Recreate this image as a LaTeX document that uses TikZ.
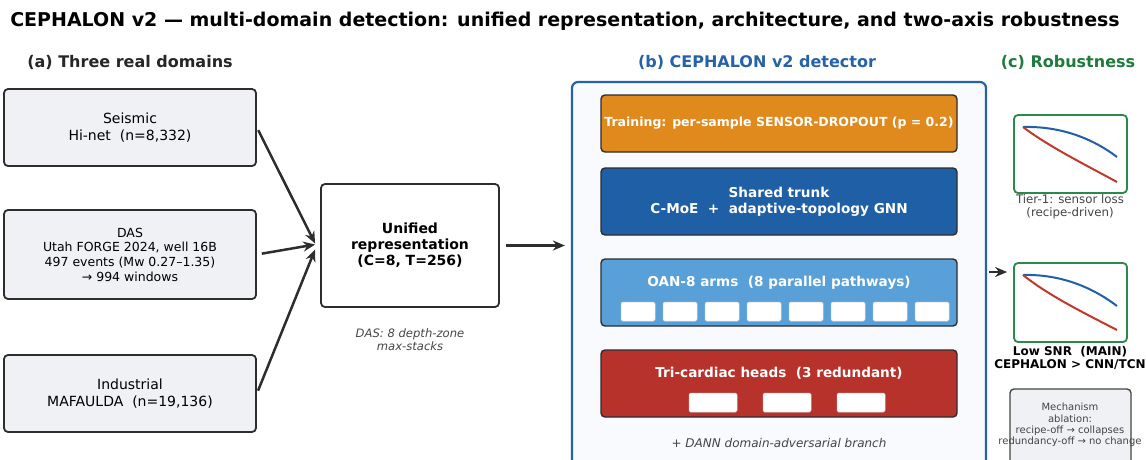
\documentclass[tikz,border=0pt]{standalone}
\usepackage{fontspec}
\setmainfont{DejaVu Sans}
\usepackage{xcolor}
\usetikzlibrary{calc,arrows.meta,positioning}
\definecolor{inkx}{HTML}{2D2D2D}
\definecolor{paleg}{HTML}{F0F1F5}
\definecolor{detblue}{HTML}{2562A8}
\definecolor{detbg}{HTML}{F8FAFD}
\definecolor{orangex}{HTML}{E08A1E}
\definecolor{trunkx}{HTML}{1F5FA6}
\definecolor{armx}{HTML}{5AA0D8}
\definecolor{headx}{HTML}{B8322C}
\definecolor{greenx}{HTML}{2A8A4A}
\definecolor{titlegr}{HTML}{1E7B3C}
\definecolor{curveb}{HTML}{2060A8}
\definecolor{curver}{HTML}{C0392B}
\definecolor{capg}{HTML}{444444}
\tikzset{
  ar/.style={-{Stealth[length=12pt,width=10pt]},line width=2.5pt,inkx},
  dombox/.style={draw=inkx,line width=1.8pt,rounded corners=4pt,fill=paleg,align=center,inner sep=0pt},
  layer/.style={draw=inkx,line width=1.4pt,rounded corners=4pt,align=center,inner sep=0pt,minimum width=356pt,minimum height=67pt,text=white,font=\fontsize{13.6}{16}\selectfont\bfseries},
  slot/.style={fill=white,draw=white!85!black,line width=0.5pt,rounded corners=1.5pt,inner sep=0pt,minimum height=19pt},
  plotbox/.style={draw=greenx,line width=1.8pt,rounded corners=4pt,fill=white,minimum width=113pt,inner sep=0pt},
  head/.style={font=\fontsize{16}{19}\selectfont\bfseries},
  note/.style={text=capg,align=center,font=\fontsize{11.6}{13}\selectfont\itshape},
  cb/.style={curveb,line width=2pt},
  cr/.style={curver,line width=2pt}
}

\begin{document}
\begin{tikzpicture}[x=1pt,y=-1pt]
\useasboundingbox (0,0) rectangle (1146,459);
% title and panel headers
\node[font=\fontsize{19}{22}\selectfont\bfseries] (ttl) at (565,21) {CEPHALON v2 --- multi-domain detection: unified representation, architecture, and two-axis robustness};
\node[head,text=black!85] (hda) at (130,62) {(a) Three real domains};
\node[head,text=detblue] (hdb) at (757,62) {(b) CEPHALON v2 detector};
\node[head,text=titlegr] (hdc) at (1068,62) {(c) Robustness};

% (a) domains
\node[dombox,minimum width=252pt,minimum height=77pt,font=\fontsize{14}{17}\selectfont] (seis) at (130,127.5) {Seismic\\Hi-net~ (n=8,332)};
\node[dombox,minimum width=252pt,minimum height=89pt,font=\fontsize{12.5}{14.7}\selectfont] (das) at (130,254.5) {DAS\\Utah FORGE 2024, well 16B\\497 events (Mw 0.27–1.35)\\→ 994 windows};
\node[dombox,minimum width=252pt,minimum height=77pt,font=\fontsize{14}{17}\selectfont] (ind) at (130,393.5) {Industrial\\MAFAULDA~ (n=19,136)};

\node[dombox,fill=white,minimum width=178pt,minimum height=123pt,font=\fontsize{14}{16}\selectfont\bfseries] (unif) at (410,245.5) {Unified\\representation\\(C=8, T=256)};
\node[note] (dasnote) at (410,340) {DAS: 8 depth-zone\\max-stacks};

\draw[ar,shorten <=3pt] (seis.east) -- ([xshift=-5pt,yshift=2pt]unif.west);
\draw[ar,shorten <=5pt] (das.east) -- ([xshift=-5pt,yshift=1pt]unif.west);
\draw[ar,shorten <=3pt] (ind.east) -- ([xshift=-5pt,yshift=-4pt]unif.west);

% (b) detector
\node[draw=detblue,line width=2.2pt,rounded corners=6pt,fill=detbg,minimum width=414pt,minimum height=390pt,inner sep=0pt] (det) at (779,277) {};
\draw[ar,shorten <=6pt,shorten >=6pt] (unif.east) -- (unif.east -| det.west);

\node[layer,fill=orangex,minimum height=57pt,font=\fontsize{12.5}{14}\selectfont\bfseries] (train) at (779,123.5) {Training: per-sample SENSOR-DROPOUT (p = 0.2)};
\node[layer,fill=trunkx] (trunk) at (779,201.5) {Shared trunk\\C-MoE~ +~ adaptive-topology GNN};
\node[layer,fill=armx] (oan) at (779,292.5) {};
\node[text=white,font=\fontsize{13.6}{16}\selectfont\bfseries] (oant) at ($(oan.north)+(0,24)$) {OAN-8 arms~ (8 parallel pathways)};
\foreach \i in {0,...,7}
  \node[slot,minimum width=34pt] (arm\i) at (638+42*\i,311.5) {};
\node[layer,fill=headx] (heads) at (779,383.5) {};
\node[text=white,font=\fontsize{13.6}{16}\selectfont\bfseries] (headt) at ($(heads.north)+(0,24)$) {Tri-cardiac heads~ (3 redundant)};
\foreach \i in {0,1,2}
  \node[slot,minimum width=48pt] (hd\i) at (713+74*\i,402.5) {};
\node[note,font=\fontsize{12}{13}\selectfont\itshape] (dann) at (779,443) {+ DANN domain-adversarial branch};

% (c) robustness
\node[plotbox,minimum height=78pt] (plotA) at (1070.5,154) {};
\draw[cb] (1023,127) .. controls (1060,126) and (1092,138) .. (1117,157);
\draw[cr] (1023,127) .. controls (1048,146) and (1082,163) .. (1117,182);
\node[note,font=\fontsize{11.8}{13}\selectfont] (tierA) at (1070,207) {Tier-1: sensor loss\\(recipe-driven)};

\coordinate (lvl) at (0,272);
\node[plotbox,minimum height=79pt] (plotB) at (1070.5,302.5) {};
\draw[cb] (1023,275) .. controls (1060,274) and (1092,287) .. (1117,306);
\draw[cr] (1023,275) .. controls (1048,295) and (1082,312) .. (1117,330);
\node[align=center,font=\fontsize{12}{13}\selectfont\bfseries] (snr) at (1070,357.5) {Low SNR~ (MAIN)\\CEPHALON > CNN/TCN};
\draw[ar,line width=2.2pt,shorten <=2pt,shorten >=6pt] (det.east |- lvl) -- (plotB.west |- lvl);

\node[dombox,draw=capg,line width=1.4pt,minimum width=121pt,minimum height=81pt] (mech) at (1070.5,429.5) {};
\node[text=capg,align=center,font=\fontsize{10}{11.4}\selectfont] (mecht) at (1070,425) {Mechanism\\ablation:\\recipe-off → collapses\\redundancy-off → no change};
\end{tikzpicture}
\end{document}
